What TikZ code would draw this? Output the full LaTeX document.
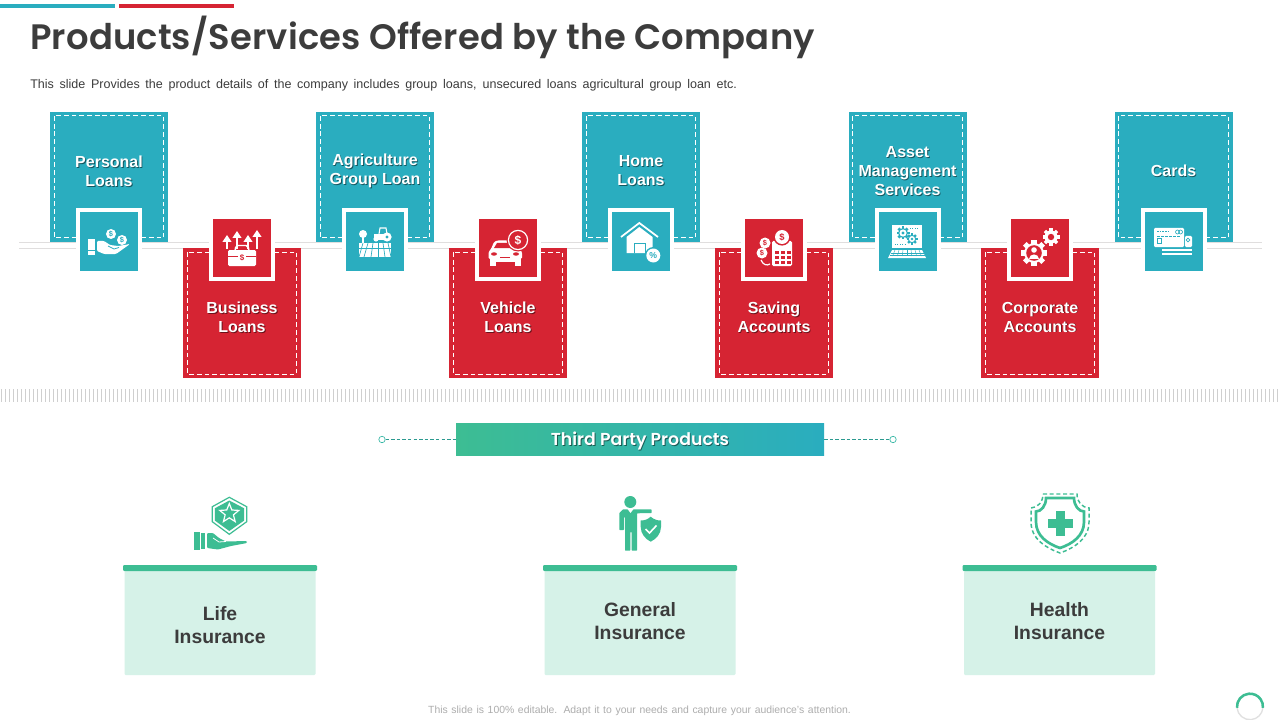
\documentclass[tikz,border=0pt]{standalone}
\usepackage{fontspec}
\setmainfont{Liberation Sans}
\newfontfamily\titlefont[UprightFont=* SemiBold,LetterSpace=0.45]{Poppins}
\newfontfamily\bannerfont[UprightFont=* SemiBold]{Poppins}
\usetikzlibrary{shapes.geometric}
\definecolor{tl}{HTML}{2AADBF}
\definecolor{rd}{HTML}{D62433}
\definecolor{gn}{HTML}{3DBD93}
\definecolor{lg}{HTML}{D6F2E8}
\definecolor{dk}{HTML}{3C3C3C}
\definecolor{rulec}{HTML}{E0DEDE}
\definecolor{tickc}{HTML}{CFCFCF}
\newcommand\fpx[2]{\fontsize{#1}{#2}\selectfont}
\tikzset{
  panel/.style={inner sep=0pt,minimum width=88.5pt},
  tile/.style={inner sep=0pt,minimum width=43.5pt,minimum height=44pt},
  whiteframe/.style={fill=white,inner sep=0pt,minimum width=49.5pt,minimum height=50pt},
  dashline/.style={white,line width=.75pt,dash pattern=on 3.6pt off 2.2pt},
  lab/.style={align=center,text=white,font=\bfseries\fpx{12}{14.25}},
  labs/.style={align=center,text=black,opacity=.5,font=\bfseries\fpx{12}{14.25}},
  ins/.style={align=center,text=dk,font=\bfseries\fpx{14.5}{17.25}},
  tinyt/.style={inner sep=0pt,font=\bfseries\fpx{4.6}{5}},
  topbar/.style={fill=gn,rounded corners=.8pt},
}
\newcommand\itemlabel[3]{%
  \node[labs] at (#1+.9,#2+.9) {\shadowtext};
  \node[lab] (t#3) at (#1,#2) {\shadowtext};}
\newcommand\tealitem[4]{%
  \node[panel,fill=tl,minimum height=97.5pt] (p#3) at (#1,177) {};
  \draw[dashline] (#1-54.7,116) rectangle (#1+54.7,238);
  \node[whiteframe] (f#3) at (#1,241.5) {};
  \node[tile,fill=tl] (i#3) at (#1,241.5) {};
  \def\shadowtext{#4}\itemlabel{#1}{#2}{#3}}
\newcommand\reditem[4]{%
  \node[panel,fill=rd,minimum height=97.5pt] (p#3) at (#1,313) {};
  \draw[dashline] (#1-54.7,252) rectangle (#1+54.7,374);
  \node[whiteframe] (f#3) at (#1,248) {};
  \node[tile,fill=rd] (i#3) at (#1,248) {};
  \def\shadowtext{#4}\itemlabel{#1}{#2}{#3}}
\newcommand\gearshape[4]{%
  \foreach \a in {0,45,...,315}{\fill[#4,rotate around={\a:(#1,#2)}] (#1-0.2*#3,#2-#3) rectangle (#1+0.2*#3,#2);}
  \fill[#4] (#1,#2) circle (0.76*#3);}
\newcommand\uparr[2]{%
  \draw[white,line width=1.9pt] (#1,249) -- (#1,#2+4);
  \fill[white] (#1,#2) -- (#1+4.6,#2+7) -- (#1-4.6,#2+7) -- cycle;}
\newcommand\inscard[4]{%
  \fill[lg,rounded corners=.8pt] (#1-95.5,571) rectangle (#1+95.5,675);
  \fill[topbar] (#1-97,565) rectangle (#1+97,571);
  \node[ins] (#3) at (#1,#2) {#4};}
\begin{document}
\begin{tikzpicture}[x=.75pt,y=-.75pt]
\useasboundingbox (0,0) rectangle (1280,720);
\fill[white] (0,0) rectangle (1280,720);
% accents
\fill[tl] (0,4) rectangle (115,8);
\fill[rd] (119,4) rectangle (234,8);
% headings
\node[anchor=base west,inner sep=0pt,text=dk,font=\titlefont\fpx{26.5}{30}] (title) at (30,50) {Products/Services Offered by the Company};
\node[anchor=base west,inner sep=0pt,text=dk,font=\fpx{9.4}{11}] (sub) at (30,89) {\hbox to 530pt{This slide Provides the product details of the company includes group loans, unsecured loans agricultural group loan etc.}};
% timeline rules
\draw[rulec,line width=.7pt] (19,242) -- (1262,242);
\draw[rulec,line width=.7pt] (19,248) -- (1262,248);
% items
\tealitem{109}{171}{a}{Personal\\Loans}
\reditem{242}{317}{b}{Business\\Loans}
\tealitem{375}{171}{c}{Agriculture\\Group Loan}
\reditem{508}{317}{d}{Vehicle\\Loans}
\tealitem{641}{171}{e}{Home\\Loans}
\reditem{774}{317}{f}{Saving\\Accounts}
\tealitem{907.5}{171}{g}{Asset\\Management\\Services}
\reditem{1040}{317}{h}{Corporate\\Accounts}
\tealitem{1173.5}{171}{k}{Cards}
% icon a: hand and coins
\fill[white] (88,239) rectangle (95,250);
\fill[white] (88,251) rectangle (95,255);
\fill[white,rounded corners=.8pt] (97,241) -- (104,241) -- (110,245) -- (118,246) -- (130,244) -- (116,254) -- (104,254) -- (97,251) -- cycle;
\fill[white] (111,234) circle (5);
\fill[white] (122,240) circle (5);
\node[tinyt,text=tl,font=\bfseries\fpx{5.5}{6}] (ca) at (111,234) {\$};
\node[tinyt,text=tl,font=\bfseries\fpx{5.5}{6}] (cb) at (122,240) {\$};
\draw[tl,line width=.6pt] (108,246) -- (114,249) -- (119,247.5);
% icon b: briefcase and arrows
\uparr{227}{235}\uparr{237}{231}\uparr{248}{235}\uparr{257}{230}
\draw[white,line width=1.1pt,rounded corners=1.5pt] (235,251) -- (236,245.5) -- (248,245.5) -- (249,251);
\fill[white,rounded corners=1pt] (228,250) rectangle (256,266);
\draw[rd,line width=.5pt] (228,256) -- (238,256) (246,256) -- (256,256);
\node[tinyt,text=rd,font=\bfseries\fpx{6}{6}] (cc) at (242,258) {\$};
% icon c: tree, tractor, field
\fill[white] (363,234) circle (4);
\fill[white] (362.3,237) rectangle (363.7,243);
\fill[white] (359,243) rectangle (391,257);
\foreach \u/\v in {363/359,368/364,373/371,378/378,383/385,388/391}{\draw[tl,line width=.5pt] (\u,243) -- (\v,257);}
\draw[tl,line width=.5pt] (359,248) -- (391,248);
\draw[white,line width=.8pt] (379,234) -- (380,228) -- (386,228) -- (387,234);
\fill[white] (374,234) rectangle (390,240.5);
\fill[white] (387,237) circle (4.6);
\fill[tl] (387,237) circle (1.7);
\fill[white] (376,239) circle (2.6);
% icon d: car and coin
\fill[white,rounded corners=1pt] (488.5,259) -- (488.5,252) -- (491,249) -- (494,242) -- (497,240.5) -- (514,240.5) -- (517,242) -- (520,249) -- (522,252) -- (522,259) -- cycle;
\fill[white] (489.5,258) rectangle (495.5,266);
\fill[white] (515,258) rectangle (521,266);
\fill[white] (491,258) rectangle (519,262);
\fill[rd] (497,243) -- (513,243) -- (516,248) -- (494,248) -- cycle;
\fill[rd] (494,254) ellipse (3 and 1.7);
\fill[rd] (516,254) ellipse (3 and 1.7);
\fill[rd] (500,256.5) rectangle (510,258);
\fill[rd] (518,240) circle (11.5);
\draw[white,line width=.9pt] (518,240) circle (9.6);
\node[tinyt,text=white,font=\bfseries\fpx{9}{9}] (cd) at (518,240) {\$};
% icon e: house
\draw[white,line width=1.3pt] (621,237) -- (639.3,223) -- (658,237);
\fill[white] (626.5,237) -- (639.3,227) -- (652.5,237) -- (652.5,253) -- (626.5,253) -- cycle;
\draw[tl,line width=.7pt] (634.5,253) -- (634.5,243) -- (645,243) -- (645,253);
\fill[tl] (653.3,255.5) circle (8.5);
\fill[white] (653.3,255.5) circle (7);
\node[tinyt,text=tl,font=\bfseries\fpx{6.5}{7}] (ce) at (653.3,255.5) {\%};
% icon f: calculator and coins
\fill[white,rounded corners=1pt] (772,241) rectangle (792,266);
\foreach \u in {775,781,787}{\foreach \v in {251,256,261}{\fill[rd] (\u,\v) rectangle (\u+3.6,\v+3.4);}}
\fill[rd] (782,237) circle (8.6);
\fill[white] (782,237) circle (7);
\node[tinyt,text=rd,font=\bfseries\fpx{7}{7}] (cf) at (782,237) {\$};
\fill[white] (765,243) circle (5.5);
\node[tinyt,text=rd,font=\bfseries\fpx{5.5}{6}] (cg) at (765,243) {\$};
\fill[white] (762,253) circle (5.5);
\node[tinyt,text=rd,font=\bfseries\fpx{5.5}{6}] (ch) at (762,253) {\$};
\draw[white,line width=.9pt] (761,260) .. controls (763,265) and (767,266) .. (770,264);
% icon g: laptop and gears
\fill[white] (892,225) rectangle (922,248);
\gearshape{903}{233}{6.5}{tl}
\fill[white] (903,233) circle (3.6);
\fill[tl] (903,233) circle (1.6);
\gearshape{912}{239}{5.5}{tl}
\fill[white] (912,239) circle (3);
\fill[tl] (912,239) circle (1.3);
\draw[tl,line width=.7pt,dash pattern=on .8pt off 1pt] (910,228) -- (919,228);
\draw[tl,line width=.7pt,dash pattern=on .8pt off 1pt] (895,244.5) -- (905,244.5);
\fill[white] (892,250) -- (922,250) -- (926,258) -- (888,258) -- cycle;
\draw[tl,line width=.4pt] (890.5,253) -- (923.5,253) (889.5,255.5) -- (924.5,255.5);
\foreach \u in {-12,-8,...,12}{\draw[tl,line width=.3pt] (907+\u,250) -- (907+1.2*\u,256);}
% icon h: gears and person
\gearshape{1051}{237}{8.5}{white}
\fill[rd] (1051,237) circle (3.2);
\gearshape{1034}{253}{13}{white}
\fill[rd] (1034,253) circle (7.8);
\fill[white] (1034,250) circle (2.8);
\fill[white] (1029,258.5) .. controls (1029,253) and (1039,253) .. (1039,258.5) -- cycle;
% icon k: cards
\fill[white,rounded corners=.8pt] (1154,228) rectangle (1184,247);
\fill[white,rounded corners=.8pt] (1185,236) rectangle (1192,247);
\draw[tl,line width=.5pt,dash pattern=on 1.2pt off .8pt] (1157,231) -- (1170,231);
\draw[tl,line width=.5pt] (1177.5,232) circle (2) (1180.5,232) circle (2);
\draw[tl,line width=.5pt] (1157,238) rectangle (1161.5,243);
\draw[tl,line width=.5pt,dash pattern=on 2pt off 1pt] (1157,236) -- (1181,236);
\draw[tl,line width=.5pt] (1188,240) circle (1.8);
\fill[white] (1162,248.5) rectangle (1192,251);
\fill[white] (1162,252.5) rectangle (1192,255);
% ticks
\foreach \u in {1,5,...,1279}{\draw[tickc,line width=.7pt] (\u,389) -- (\u,402);}
% banner
\node[inner sep=0pt,minimum width=276pt,minimum height=24.5pt,left color=gn,right color=tl] (banner) at (640,439.5) {};
\node[circle,draw=gn!60!tl,fill=white,line width=.5pt,inner sep=0pt,minimum size=4.8pt] (bl) at (382,439.5) {};
\node[circle,draw=gn!60!tl,fill=white,line width=.5pt,inner sep=0pt,minimum size=4.8pt] (br) at (893,439.5) {};
\draw[gn!50!tl!85!black,line width=.5pt,dash pattern=on 2.6pt off 1.6pt] (bl) -- (banner.west);
\draw[gn!50!tl!85!black,line width=.5pt,dash pattern=on 2.6pt off 1.6pt] (banner.east) -- (br);
\node[text=black,opacity=.5,font=\bannerfont\fpx{13}{15}] at (640.9,441.9) {Third Party Products};
\node[text=white,font=\bannerfont\fpx{13}{15}] (bt) at (640,441) {Third Party Products};
% insurance cards
\inscard{220}{625.5}{li}{Life\\Insurance}
\inscard{640}{621.5}{gi}{General\\Insurance}
\inscard{1059.5}{621.5}{hi}{Health\\Insurance}
% life icon
\draw[gn,line width=.9pt] (229.3,497.3) -- (246.7,506.7) -- (246.7,521.7) -- (229.3,534.3) -- (212.3,521.7) -- (212.3,506.7) -- cycle;
\fill[gn] (229.3,500.5) -- (244.2,508.3) -- (244.2,520.5) -- (229.3,531) -- (214.8,520.5) -- (214.8,508.3) -- cycle;
\node[star,star points=5,star point ratio=2.3,draw=white,fill=gn,line width=.9pt,inner sep=0pt,minimum size=15pt] (st) at (229.3,513.5) {};
\fill[gn] (194,532) rectangle (199.5,550);
\fill[gn] (201,533) rectangle (205,549);
\fill[gn,rounded corners=.8pt] (207,533) -- (213,533) -- (219,538) -- (226,541.5) -- (247,541) -- (247,543) -- (231,546) -- (218,549.5) -- (207,548) -- cycle;
\draw[white,line width=.6pt] (213,538) -- (219,542) -- (226,541.5);
% general icon
\fill[gn] (630.3,502) circle (6);
\fill[gn,rounded corners=.5pt] (619.3,530) -- (619.3,513) -- (623,509.3) -- (636,509.3) -- (651.7,509.3) -- (651.7,513) -- (637,513.3) -- (637,550.7) -- (631.7,550.7) -- (631.7,532) -- (630.3,532) -- (630.3,550.7) -- (625,550.7) -- (625,517) -- (624,517) -- (624,530) -- cycle;
\fill[white] (627.5,509) -- (633.5,509) -- (630.5,513) -- cycle;
\fill[gn] (650.7,516.7) .. controls (654,519.5) and (657,520.5) .. (661,520.5) -- (661,527) .. controls (661,534) and (656,539) .. (650.7,541.7) .. controls (645.5,539) and (640.7,534) .. (640.7,527) -- (640.7,520.5) .. controls (644.5,520.5) and (647.5,519.5) .. cycle;
\draw[white,line width=1.2pt] (645.5,529) -- (649.5,533) -- (656.5,525.5);
% health icon
\draw[gn,line width=2pt] (1046,498) -- (1074,498) .. controls (1074,506) and (1079,511.5) .. (1084,511.5) -- (1084,522) .. controls (1084,536) and (1072,544) .. (1060,548) .. controls (1048,544) and (1036,536) .. (1036,522) -- (1036,511.5) .. controls (1041,511.5) and (1046,506) .. cycle;
\draw[gn,line width=1.1pt,dash pattern=on 3pt off 2pt] (1043,494) -- (1077,494) .. controls (1077,502) and (1082,507.5) .. (1089,508) -- (1089,522) .. controls (1089,539) and (1074,548) .. (1060,553) .. controls (1046,548) and (1031,539) .. (1031,522) -- (1031,508) .. controls (1038,507.5) and (1043,502) .. cycle;
\fill[gn] (1055.5,511) rectangle (1064.5,536);
\fill[gn] (1047.5,519) rectangle (1072.5,528);
% footer
\node[inner sep=0pt,text=black!32,font=\fpx{7.8}{9}] (foot) at (639.5,711) {\hbox to 317pt{This slide is 100\% editable. Adapt it to your needs and capture your audience's attention.}};
% loader
\draw[black!12,line width=1pt] (1237,707.8) arc[start angle=185,end angle=355,radius=9.75pt];
\draw[gn,line width=1.9pt] (1237,707.8) arc[start angle=185,end angle=-5,radius=9.75pt];
\end{tikzpicture}
\end{document}
